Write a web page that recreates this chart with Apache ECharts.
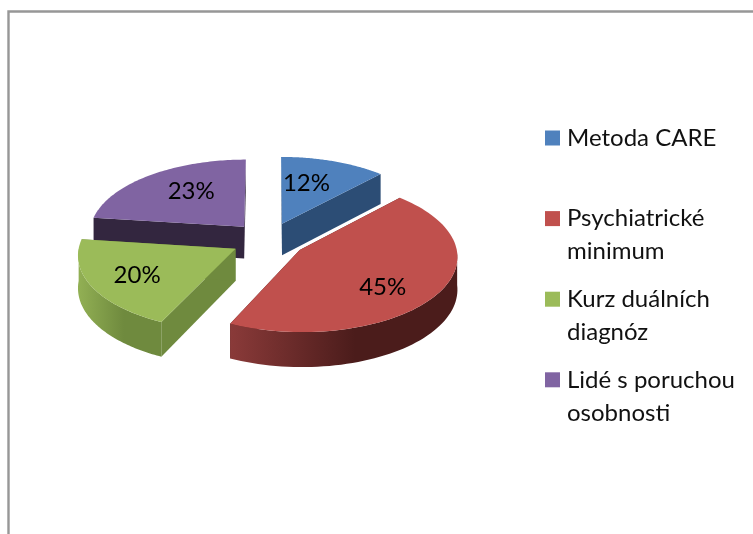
<!DOCTYPE html>
<html><head><meta charset="utf-8">
<style>html,body{margin:0;padding:0;background:#fff}#c{width:753px;height:534px;filter:blur(0.5px)}</style>
<script src="https://cdn.jsdelivr.net/npm/echarts@6/dist/echarts.min.js"></script>
</head><body><div id="c"></div>
<script>
var categories = ['Metoda CARE', 'Psychiatrické minimum', 'Kurz duálních diagnóz', 'Lidé s poruchou osobnosti'];
var values = [12, 45, 20, 23];
var legendLines = [['Metoda CARE'], ['Psychiatrické', 'minimum'], ['Kurz duálních', 'diagnóz'], ['Lidé s poruchou', 'osobnosti']];
var topColors = ['#4f81bd', '#c0504d', '#9bbb59', '#8064a2'];
var cutColors = ['#2c4d75', '#4c1c1b', '#6f8a3e', '#33263f'];
var rimColors = [['#2c4d75', '#2c4d75'], ['#8a3a39', '#4b1c1b'], ['#92b054', '#6f8a3e'], ['#33263f', '#33263f']];
var paintOrder = [2, 4, 3, 1];
var labelNudge = [[-10, 0], [-3, 10], [-10, 3], [7, -3]];

var G = {cx: 268.5, cy: 240, R: 155.5, r: 74.2, p: 0.0754, depth: 32, explode: 0.24, labelR: 0.63};
var total = values.reduce(function (a, b) { return a + b; }, 0);
var starts = [];
values.reduce(function (a, v, i) { starts[i] = a; return a + v; }, 0);

function project(X, Y, down) {
  var s = 1 / (1 - G.p * Y);
  return [G.cx + G.R * X * s, G.cy + G.r * Y * s + (down ? G.depth * s : 0)];
}
function renderSlice(idx) {
  return function () {
    var a0 = starts[idx] / total * 2 * Math.PI;
    var a1 = (starts[idx] + values[idx]) / total * 2 * Math.PI;
    var mid = (a0 + a1) / 2;
    var ox = G.explode * Math.sin(mid), oy = -G.explode * Math.cos(mid);
    function pt(a, rad, down) { return project(ox + rad * Math.sin(a), oy - rad * Math.cos(a), down); }
    var arc = [], n = 80, i;
    for (i = 0; i <= n; i++) arc.push(a0 + (a1 - a0) * i / n);
    var topPts = [pt(0, 0, false)].concat(arc.map(function (a) { return pt(a, 1, false); }));
    var children = [];
    [a0, a1].forEach(function (e) {
      children.push({type: 'polygon', shape: {points: [pt(0, 0, false), pt(e, 1, false), pt(e, 1, true), pt(0, 0, true)]},
        style: {fill: cutColors[idx]}});
    });
    var vis = arc.filter(function (a) { return Math.cos(a) < 0; });
    if (vis.length > 1) {
      var upper = vis.map(function (a) { return pt(a, 1, false); });
      var lower = vis.map(function (a) { return pt(a, 1, true); }).reverse();
      children.push({type: 'polygon', shape: {points: upper.concat(lower)},
        style: {fill: new echarts.graphic.LinearGradient(0, 0, 1, 0, [
          {offset: 0, color: rimColors[idx][0]}, {offset: 0.55, color: rimColors[idx][1]}, {offset: 1, color: rimColors[idx][1]}])}});
    }
    children.push({type: 'polygon', shape: {points: topPts}, style: {fill: topColors[idx]}});
    var lp = pt(mid, G.labelR, false);
    children.push({type: 'text', x: lp[0] + labelNudge[idx][0] + 1, y: lp[1] + labelNudge[idx][1],
      style: {text: values[idx] + '%', fill: '#000', font: '24px Lato', align: 'center', verticalAlign: 'middle'}});
    return {type: 'group', children: children};
  };
}
var chart = echarts.init(document.getElementById('c'), null, {renderer: 'canvas'});
chart.setOption({
  animation: false,
  backgroundColor: '#fff',
  color: topColors,
  graphic: [{type: 'polyline', shape: {points: [[8.5, 534], [8.5, 11.5], [753, 11.5]]}, silent: true,
    style: {stroke: '#979797', lineWidth: 2.4, fill: null}}],
  legend: {
    orient: 'vertical', left: 545, top: 88.5, padding: 0, icon: 'rect', itemWidth: 15, itemHeight: 15, itemGap: -18.4,
    selectedMode: false, data: categories,
    formatter: function (name) {
      var l = legendLines[categories.indexOf(name)];
      return ' \n' + l[0] + '\n' + (l[1] || ' ');
    },
    textStyle: {fontFamily: 'Lato', fontSize: 24, lineHeight: 33, color: '#111', padding: [0, 0, 0, 2]},
    itemStyle: {borderWidth: 0}
  },
  series: categories.map(function (name, i) {
    return {type: 'custom', name: name, coordinateSystem: 'none', z: paintOrder[i],
      data: [[values[i]]], renderItem: renderSlice(i), itemStyle: {color: topColors[i]}, silent: true};
  })
});
</script></body></html>
